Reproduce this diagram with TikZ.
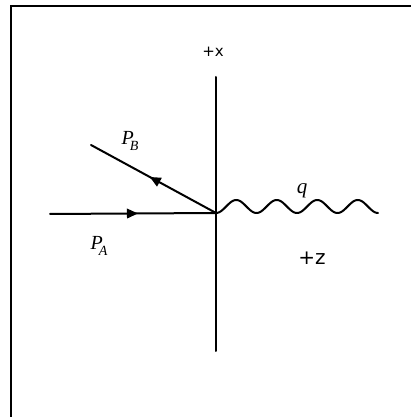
\documentclass[tikz,border=0pt]{standalone}
\usepackage{fontspec}
\setmainfont{Liberation Serif}
\newfontfamily\labsans{DejaVu Sans}
\usetikzlibrary{decorations.markings,arrows.meta}
\newcommand{\momlab}[1]{{\fontsize{20}{20}\selectfont\itshape P}\kern-4pt\raisebox{-6.5pt}{\fontsize{14}{14}\selectfont\itshape #1}}
\tikzset{
  ln/.style={line width=2pt, line cap=round},
  midarrow/.style={postaction={decorate},decoration={markings,mark=at position #1 with {\arrow{Triangle[length=11pt,width=9.5pt]}}}},
  lbl/.style={inner sep=0pt}
}
\begin{document}
\begin{tikzpicture}[x=1pt,y=1pt]
\useasboundingbox (0,0) rectangle (410,417);
% frame
\coordinate (ftl) at (10.5,410.5);
\coordinate (ftr) at (412,410.5);
\coordinate (fbl) at (10.5,-2);
\draw[line width=2pt] (fbl) -- (ftl) -- (ftr);
% axis
\coordinate (v) at (216,204);
\coordinate (ax1) at (216,340);
\coordinate (ax2) at (216,66);
\draw[ln] (ax1) -- (ax2);
% P_A
\coordinate (pa) at (50,203);
\draw[ln,midarrow=0.53] (pa) -- (v);
% P_B
\coordinate (pb) at (91,272);
\draw[ln,midarrow=0.53] (v) -- (pb);
% wave q
\coordinate (qe) at (378,204);
\draw[ln,line join=round] plot[domain=0:162,samples=200,smooth] ({216+\x},{204+6.5*(1-cos(\x*8.8889))});
% labels
\node[lbl] (lx) at (213,365) {\labsans\fontsize{15}{15}\selectfont +x};
\node[lbl] (lz) at (312,159) {\labsans\fontsize{20}{20}\selectfont +z};
\node[lbl] (lpb) at (130,276) {\momlab{B}};
\node[lbl] (lpa) at (99,171) {\momlab{A}};
\node[lbl] (lq) at (302,226) {\fontsize{21}{21}\selectfont\itshape q};
\end{tikzpicture}
\end{document}
